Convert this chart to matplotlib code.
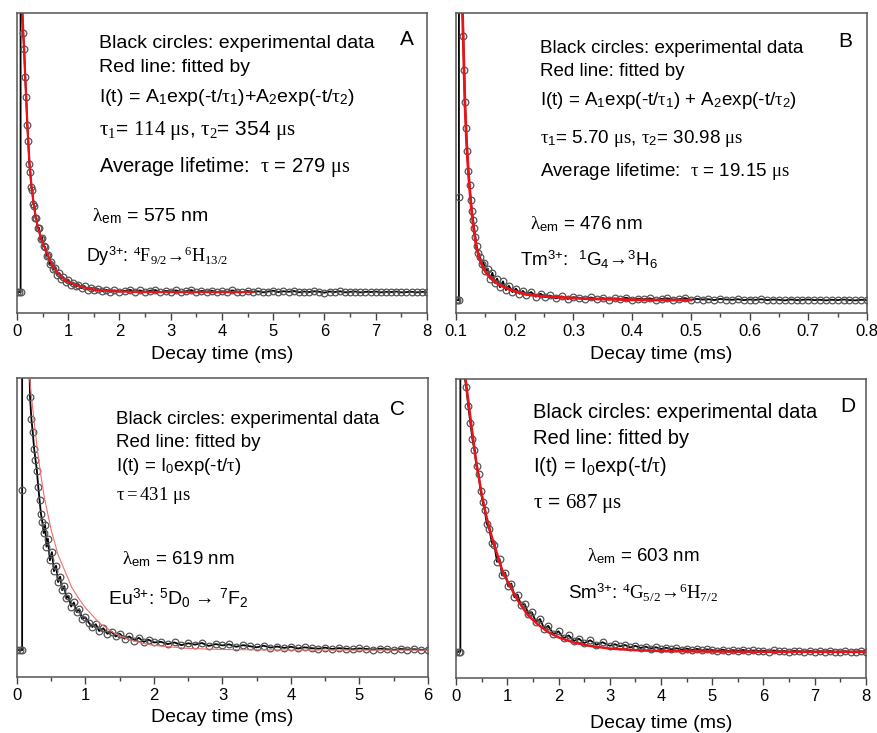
import numpy as np
import matplotlib
matplotlib.use('Agg')
import matplotlib.pyplot as plt
from matplotlib.ticker import MultipleLocator

plt.rcParams['font.family'] = ['Liberation Sans', 'Noto Sans CJK SC', 'DejaVu Sans']
plt.rcParams['mathtext.fontset'] = 'custom'
plt.rcParams['mathtext.rm'] = 'Liberation Serif'
plt.rcParams['mathtext.it'] = 'Liberation Serif:italic'
plt.rcParams['mathtext.sf'] = 'Liberation Sans'
plt.rcParams['mathtext.bf'] = 'Liberation Sans:bold'

# ---- data (normalised intensity, baseline = 0) ----
# A : Dy3+ 575 nm
a_pre_t = [0.0, 0.035, 0.07, 0.07]
a_pre_y = [0.0, 0.0, 0.0, 1.6]
a_dec_t = [0.10, 0.12, 0.14, 0.16, 0.18, 0.20, 0.22, 0.24, 0.26, 0.28,
           0.30, 0.32, 0.34, 0.36, 0.38, 0.40, 0.43, 0.46, 0.49, 0.52,
           0.55, 0.58, 0.61, 0.64, 0.67, 0.70, 0.74, 0.78, 0.82, 0.86,
           0.90, 0.95, 1.00, 1.05, 1.10, 1.15, 1.20, 1.26, 1.32, 1.38,
           1.44, 1.50, 1.58, 1.66, 1.74, 1.82, 1.90, 2.00]
a_dec_y = [1.03, 0.93, 0.87, 0.77, 0.70, 0.60, 0.54, 0.46, 0.43, 0.375,
           0.365, 0.315, 0.31, 0.265, 0.265, 0.23, 0.23, 0.19, 0.195, 0.165,
           0.162, 0.13, 0.132, 0.10, 0.108, 0.082, 0.088, 0.062, 0.068, 0.048,
           0.053, 0.036, 0.045, 0.027, 0.034, 0.02, 0.027, 0.014, 0.021, 0.009,
           0.015, 0.006, 0.011, 0.003, 0.008, 0.001, 0.006, 0.002]
a_tail_y = [0.004, 0.008, 0.002, 0.006, 0.001, 0.005, 0.007, 0.000, 0.004, 0.002,
            0.006, 0.001, 0.003, 0.007, 0.000, 0.004, 0.002, 0.005, -0.001, 0.003,
            0.001, 0.006, 0.002, 0.000, 0.004, 0.001, 0.003, -0.001, 0.002, 0.005,
            0.000, 0.003, 0.001, 0.004, -0.001, 0.002, 0.000, 0.003, 0.001, -0.002,
            0.002, 0.000, 0.003, -0.001, 0.001, 0.002, -0.001, 0.001, 0.000, 0.002,
            -0.001, 0.001, 0.000, 0.002, -0.001, 0.000, 0.001, -0.001, 0.001, 0.000]
a_fit_t = [0.09, 0.10, 0.12, 0.14, 0.16, 0.18, 0.20, 0.22, 0.24, 0.26,
           0.28, 0.30, 0.33, 0.36, 0.40, 0.45, 0.50, 0.55, 0.60, 0.70,
           0.80, 0.90, 1.0, 1.2, 1.4, 1.6, 1.8, 2.0, 2.5, 3.0,
           3.5, 4.0, 4.6]
a_fit_y = [1.08, 1.02, 0.94, 0.86, 0.775, 0.69, 0.61, 0.535, 0.475, 0.425,
           0.385, 0.352, 0.31, 0.275, 0.238, 0.205, 0.178, 0.155, 0.133, 0.092,
           0.066, 0.048, 0.036, 0.022, 0.012, 0.007, 0.004, 0.002, 0.0005, 0,
           0, 0, 0]

# B : Tm3+ 476 nm
b_pre_t = [0.1, 0.1025, 0.105, 0.105, 0.105]
b_pre_y = [0.0, 0.0, 0.0, 0.36, 1.6]
b_dec_t = [0.1124, 0.1138, 0.1153, 0.117, 0.119, 0.121, 0.123, 0.125, 0.127, 0.129,
           0.131, 0.133, 0.135, 0.138, 0.141, 0.144, 0.147, 0.150, 0.154, 0.158,
           0.162, 0.166, 0.170, 0.175, 0.180, 0.185, 0.190, 0.196, 0.202, 0.208,
           0.214, 0.220, 0.228, 0.236, 0.244, 0.252, 0.260, 0.270, 0.280, 0.290,
           0.300]
b_dec_y = [0.92, 0.80, 0.69, 0.60, 0.52, 0.45, 0.40, 0.35, 0.31, 0.28,
           0.25, 0.22, 0.19, 0.165, 0.15, 0.125, 0.13, 0.10, 0.11, 0.075,
           0.095, 0.06, 0.075, 0.045, 0.065, 0.035, 0.05, 0.028, 0.04, 0.022,
           0.032, 0.018, 0.028, 0.012, 0.022, 0.01, 0.016, 0.006, 0.013, 0.004,
           0.01]
b_tail_y = [0.008, 0.004, 0.009, 0.003, 0.007, 0.002, 0.006, 0.004, 0.008, 0.002,
            0.005, 0.003, 0.006, 0.001, 0.004, 0.006, 0.002, 0.003, 0.007, 0.001,
            0.004, 0.002, 0.003, 0.000, 0.004, 0.002, 0.001, 0.003, 0.000, 0.002,
            0.001, 0.003, 0.000, 0.002, 0.001, -0.001, 0.002, 0.000, 0.001, 0.002,
            0.000, 0.001, -0.001, 0.001, 0.000, 0.002, 0.000, -0.001, 0.001, 0.000]
b_fit_t = [0.110, 0.1124, 0.1153, 0.118, 0.121, 0.124, 0.1266, 0.130, 0.135, 0.140,
           0.1464, 0.155, 0.165, 0.175, 0.190, 0.203, 0.220, 0.240, 0.260, 0.290,
           0.320, 0.360, 0.400, 0.450, 0.500]
b_fit_y = [1.08, 0.90, 0.68, 0.55, 0.447, 0.37, 0.31, 0.25, 0.18, 0.145,
           0.11, 0.085, 0.065, 0.052, 0.038, 0.029, 0.020, 0.015, 0.012, 0.008,
           0.005, 0.003, 0.001, 0.0, 0.0]

# C : Eu3+ 619 nm
c_pre_t = [0.0, 0.04, 0.075, 0.075, 0.075, 0.17]
c_pre_y = [0.0, 0.0, 0.0, 0.59, 1.6, 1.2]
c_dec_t = [0.19, 0.21, 0.23, 0.25, 0.27, 0.29, 0.31, 0.33, 0.35, 0.37,
           0.39, 0.41, 0.43, 0.45, 0.48, 0.51, 0.54, 0.57, 0.60, 0.63,
           0.66, 0.69, 0.72, 0.75, 0.79, 0.83, 0.87, 0.91, 0.95, 1.00,
           1.05, 1.10, 1.15, 1.20, 1.26, 1.32, 1.38, 1.44, 1.50, 1.57,
           1.64, 1.71, 1.78, 1.85, 1.92, 2.00]
c_dec_y = [0.93, 0.85, 0.80, 0.74, 0.70, 0.66, 0.60, 0.55, 0.50, 0.47,
           0.43, 0.46, 0.38, 0.41, 0.33, 0.36, 0.29, 0.31, 0.25, 0.27,
           0.22, 0.235, 0.19, 0.20, 0.16, 0.175, 0.14, 0.15, 0.115, 0.12,
           0.10, 0.085, 0.095, 0.07, 0.08, 0.06, 0.068, 0.05, 0.06, 0.042,
           0.05, 0.035, 0.045, 0.03, 0.038, 0.028]
c_tail_y = [0.030, 0.022, 0.028, 0.018, 0.025, 0.020, 0.026, 0.015, 0.022, 0.017,
            0.021, 0.012, 0.018, 0.014, 0.010, 0.016, 0.009, 0.013, 0.008, 0.012,
            0.006, 0.010, 0.007, 0.005, 0.009, 0.004, 0.007, 0.005, 0.003, 0.006,
            0.004, 0.002, 0.005, 0.003, 0.001, 0.004, 0.002, 0.003, 0.001, 0.002]
c_fit_t = [0.15, 0.2, 0.25, 0.3, 0.35, 0.4, 0.5, 0.6, 0.7, 0.8,
           0.9, 1.0, 1.2, 1.4, 1.6, 1.8, 2.0, 2.5, 3.0, 4.0,
           5.0, 6.0]
c_fit_y = [1.10, 0.96, 0.84, 0.73, 0.64, 0.56, 0.44, 0.35, 0.29, 0.23,
           0.19, 0.155, 0.10, 0.065, 0.042, 0.027, 0.017, 0.006, 0.002, 0.0,
           0.0, 0.0]

# D : Sm3+ 603 nm
d_pre_t = [0.0, 0.05, 0.085, 0.085]
d_pre_y = [0.0, 0.0, 0.0, 1.6]
d_dec_t = [0.16, 0.20, 0.24, 0.28, 0.32, 0.36, 0.40, 0.44, 0.48, 0.52,
           0.56, 0.60, 0.65, 0.70, 0.75, 0.80, 0.85, 0.90, 0.96, 1.02,
           1.08, 1.14, 1.20, 1.27, 1.34, 1.41, 1.48, 1.56, 1.64, 1.72,
           1.80, 1.90, 2.00, 2.10, 2.20, 2.30, 2.40, 2.50, 2.62, 2.74,
           2.86, 3.00]
d_dec_y = [1.02, 0.97, 0.90, 0.84, 0.78, 0.74, 0.68, 0.65, 0.59, 0.55,
           0.52, 0.47, 0.45, 0.40, 0.39, 0.33, 0.34, 0.28, 0.29, 0.24,
           0.25, 0.20, 0.21, 0.17, 0.175, 0.14, 0.145, 0.11, 0.12, 0.085,
           0.095, 0.065, 0.075, 0.05, 0.06, 0.04, 0.048, 0.032, 0.042, 0.026,
           0.035, 0.022]
d_tail_y = [0.028, 0.020, 0.025, 0.016, 0.022, 0.014, 0.019, 0.012, 0.017, 0.010,
            0.015, 0.009, 0.013, 0.008, 0.012, 0.006, 0.011, 0.005, 0.009, 0.006,
            0.004, 0.008, 0.003, 0.006, 0.004, 0.007, 0.002, 0.005, 0.003, 0.004,
            0.001, 0.005, 0.002, 0.003, 0.000, 0.004, 0.002, 0.001, 0.003, 0.000,
            0.002, 0.001, 0.003, 0.000, 0.001, 0.002, 0.000, 0.001, 0.002, 0.000]
d_fit_t = [0.12, 0.2, 0.3, 0.4, 0.5, 0.6, 0.7, 0.8, 0.9, 1.0,
           1.2, 1.4, 1.6, 1.8, 2.0, 2.3, 2.6, 3.0, 3.5, 4.0,
           5.0, 6.0, 7.0, 8.0]
d_fit_y = [1.10, 0.98, 0.83, 0.69, 0.58, 0.49, 0.42, 0.36, 0.30, 0.26,
           0.19, 0.135, 0.10, 0.072, 0.053, 0.034, 0.022, 0.012, 0.006, 0.003,
           0.001, 0.0, 0.0, 0.0]

# tail sampling times (uniform recorder grid)
a_tail_t = np.round(np.arange(2.1, 8.001, 0.1), 3)
b_tail_t = np.round(np.arange(0.31, 0.8001, 0.01), 3)
c_tail_t = np.round(np.arange(2.1, 6.001, 0.1), 3)
d_tail_t = np.round(np.arange(3.1, 8.001, 0.1), 3)

fig = plt.figure(figsize=(8.78, 7.33), dpi=100)

def panel(rect, t_pre, y_pre, t_dec, y_dec, t_tail, y_tail, t_fit, y_fit,
          xlim, major, minor, ybot, fit_lw, fit_col, lbl_pad):
    ax = fig.add_axes(rect)
    t = list(t_pre) + list(t_dec) + list(t_tail)
    y = list(y_pre) + list(y_dec) + list(y_tail)
    ax.plot(t, y, '-', color='black', lw=1.3, zorder=2)
    ax.plot(t, y, 'o', mfc='none', mec='#555555', ms=4.8, mew=0.9, zorder=2)
    ax.plot(t_fit, y_fit, '-', color=fit_col, lw=fit_lw, zorder=3)
    ax.set_xlim(xlim)
    ax.set_ylim(ybot, 1.0)
    ax.set_yticks([])
    ax.xaxis.set_major_locator(MultipleLocator(major))
    ax.xaxis.set_minor_locator(MultipleLocator(minor))
    ax.tick_params(axis='x', which='major', direction='out', length=5,
                   width=1, labelsize=12, color='#444', pad=3)
    ax.tick_params(axis='x', which='minor', direction='out', length=3,
                   width=1, color='#444')
    for s in ax.spines.values():
        s.set_color('#555')
        s.set_linewidth(1.1)
    ax.set_xlabel('Decay time (ms)', fontsize=14, labelpad=lbl_pad)
    return ax

axA = panel([17/878, 1-313/733, 410/878, 300/733], a_pre_t, a_pre_y, a_dec_t, a_dec_y,
            a_tail_t, a_tail_y, a_fit_t, a_fit_y, (0, 8), 1, 0.5, -0.075, 1.6, '#e8141c', 5)
axB = panel([456/878, 1-313/733, 411/878, 300/733], b_pre_t, b_pre_y, b_dec_t, b_dec_y,
            b_tail_t, b_tail_y, b_fit_t, b_fit_y, (0.1, 0.8), 0.1, 0.05, -0.045, 2.0, '#e8141c', 5)
axC = panel([17/878, 1-677/733, 411/878, 299/733], c_pre_t, c_pre_y, c_dec_t, c_dec_y,
            c_tail_t, c_tail_y, c_fit_t, c_fit_y, (0, 6), 1, 0.5, -0.099, 0.8, '#f07070', 4)
axD = panel([456/878, 1-678/733, 410/878, 299/733], d_pre_t, d_pre_y, d_dec_t, d_dec_y,
            d_tail_t, d_tail_y, d_fit_t, d_fit_y, (0, 8), 1, 0.5, -0.096, 1.8, '#e8141c', 8)

fs = 14
def txt(ax, x, y, s, size=fs, **kw):
    ax.text(x, y, s, transform=ax.transAxes, fontsize=size, va='baseline', ha='left', **kw)

# panel A
txt(axA, 0.20, 0.882, 'Black circles: experimental data')
txt(axA, 0.935, 0.893, 'A', size=15)
txt(axA, 0.20, 0.804, 'Red line: fitted by')
txt(axA, 0.20, 0.704, r'I(t) = A$_\mathsf{1}$exp(-t/$\mathrm{\tau}_\mathsf{1}$)+A$_\mathsf{2}$exp(-t/$\mathrm{\tau}_\mathsf{2}$)')
txt(axA, 0.20, 0.593, r'$\mathrm{\tau_1}$= $\mathrm{114\ \mu s}$, $\mathrm{\tau_2}$= 354 $\mathrm{\mu s}$', size=15)
txt(axA, 0.20, 0.471, 'Average lifetime:  ' + r'$\mathrm{\tau}$ = 279 $\mathrm{\mu s}$', size=14.5)
txt(axA, 0.184, 0.304, r'$\mathrm{\lambda}_\mathsf{em}$ = 575 nm')
txt(axA, 0.168, 0.171, r'Dy$^{\mathsf{3{+}}}$: $\mathrm{^4F_{9/2}}$→$\mathrm{^6H_{13/2}}$', size=13)

# panel B
txt(axB, 0.205, 0.866, 'Black circles: experimental data', size=13.5)
txt(axB, 0.93, 0.888, 'B', size=15)
txt(axB, 0.205, 0.79, 'Red line: fitted by', size=13.5)
txt(axB, 0.205, 0.693, r'I(t) = A$_\mathsf{1}$exp(-t/$\mathrm{\tau}_\mathsf{1}$) + A$_\mathsf{2}$exp(-t/$\mathrm{\tau}_\mathsf{2}$)', size=13.5)
txt(axB, 0.205, 0.566, r'$\mathrm{\tau}_\mathsf{1}$= 5.70 $\mathrm{\mu s}$, $\mathrm{\tau}_\mathsf{2}$= 30.98 $\mathrm{\mu s}$', size=13.5)
txt(axB, 0.205, 0.457, 'Average lifetime:  ' + r'$\mathrm{\tau}$ = 19.15 $\mathrm{\mu s}$', size=13.5)
txt(axB, 0.18, 0.279, r'$\mathrm{\lambda}_\mathsf{em}$ = 476 nm', size=13.5)
txt(axB, 0.156, 0.154, r'Tm$^{\mathsf{3{+}}}$:  $^\mathsf{1}$G$_\mathsf{4}$→$^\mathsf{3}$H$_\mathsf{6}$', size=13.5)

# panel C
txt(axC, 0.241, 0.847, 'Black circles: experimental data', size=13.5)
txt(axC, 0.908, 0.877, 'C', size=15)
txt(axC, 0.241, 0.769, 'Red line: fitted by', size=13.5)
txt(axC, 0.241, 0.688, r'I(t) = I$_\mathsf{0}$exp(-t/$\mathrm{\tau}$)', size=13.5)
txt(axC, 0.241, 0.591, r'$\mathrm{\tau = 431\ \mu s}$', size=13.5)
txt(axC, 0.255, 0.378, r'$\mathrm{\lambda}_\mathsf{em}$ = 619 nm', size=13.5)
txt(axC, 0.222, 0.244, r'Eu$^{\mathsf{3{+}}}$: $^\mathsf{5}$D$_\mathsf{0}$ → $^\mathsf{7}$F$_\mathsf{2}$', size=14)

# panel D
txt(axD, 0.187, 0.869, 'Black circles: experimental data', size=14.5)
txt(axD, 0.937, 0.891, 'D', size=15)
txt(axD, 0.187, 0.783, 'Red line: fitted by', size=14.5)
txt(axD, 0.187, 0.69, r'I(t) = I$_\mathsf{0}$exp(-t/$\mathrm{\tau}$)', size=14.5)
txt(axD, 0.187, 0.568, r'$\mathrm{\tau}$ = $\mathrm{687\ \mu s}$', size=15)
txt(axD, 0.319, 0.39, r'$\mathrm{\lambda}_\mathsf{em}$ = 603 nm', size=13.5)
txt(axD, 0.274, 0.264, r'Sm$^{\mathsf{3{+}}}$: $\mathrm{^4G_{5/2}}$→$\mathrm{^6H_{7/2}}$', size=13.5)

fig.savefig('out.png', dpi=100)
